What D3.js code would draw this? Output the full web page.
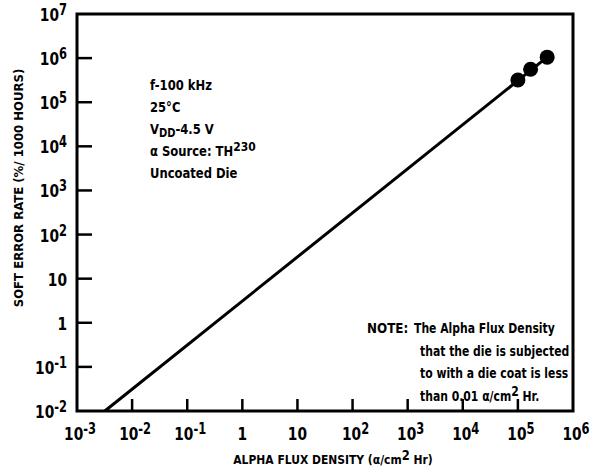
<!DOCTYPE html>
<html lang="en">
<head>
<meta charset="UTF-8">
<title>Soft error rate vs alpha flux density</title>
<script src="https://d3js.org/d3.v7.min.js"></script>
<style>
  body { margin: 0; background: #fff; }
  text { font-family: "Liberation Sans Narrow", "DejaVu Sans Condensed", "Roboto Condensed", sans-serif; fill: #000; }
</style>
</head>
<body>
<svg id="chart"></svg>
<script>
// decade ticks (exponents)
const xExps = [-3, -2, -1, 0, 1, 2, 3, 4, 5, 6];
const yExps = [-2, -1, 0, 1, 2, 3, 4, 5, 6, 7];

// measured points
const fluxPts = [1.0e5, 1.7e5, 3.4e5];
const ratePts = [3.2e5, 5.6e5, 1.05e6];

// fitted line (start at bottom edge, ends at last point)
const lineFlux = [3.2e-3, 3.4e5];
const lineRate = [1e-2, 1.05e6];

const condLines = ["f-100 kHz", "25°C", "VDD", "α Source: TH", "Uncoated Die"];
const noteLines = ["The Alpha Flux Density", "that the die is subjected", "to with a die coat is less", "than 0.01 α/cm"];

const width = 602, height = 471;
const svg = d3.select("#chart").attr("width", width).attr("height", height);

const x = d3.scaleLog().domain([1e-3, 1e6]).range([77, 573]);
const y = d3.scaleLog().domain([1e-2, 1e7]).range([411, 14]);

// condensed text: the original face is narrower than anything installed
function ctext(parent, px, py, sx) {
  return parent.append("text")
    .attr("transform", `translate(${px},${py}) scale(${sx},1)`);
}

// frame
svg.append("rect")
  .attr("x", x(1e-3)).attr("y", y(1e7))
  .attr("width", x(1e6) - x(1e-3)).attr("height", y(1e-2) - y(1e7))
  .attr("fill", "none").attr("stroke", "#000").attr("stroke-width", 3);

// inward ticks
svg.append("g").selectAll("line")
  .data(yExps.slice(1, -1))
  .join("line")
  .attr("x1", x(1e-3)).attr("x2", x(1e-3) + 15)
  .attr("y1", d => y(Math.pow(10, d))).attr("y2", d => y(Math.pow(10, d)))
  .attr("stroke", "#000").attr("stroke-width", 2.5);

svg.append("g").selectAll("line")
  .data(xExps.slice(1, -1))
  .join("line")
  .attr("x1", d => x(Math.pow(10, d))).attr("x2", d => x(Math.pow(10, d)))
  .attr("y1", y(1e-2)).attr("y2", y(1e-2) - 12)
  .attr("stroke", "#000").attr("stroke-width", 2.5);

// label helper: 10^n with raised exponent
function powLabel(sel, e) {
  if (e === 0) { sel.text("1"); return; }
  if (e === 1) { sel.text("10"); return; }
  sel.append("tspan").text("10");
  sel.append("tspan").attr("dy", -6).attr("font-size", 15).text(e < 0 ? "-" + (-e) : e);
}

const yl = svg.append("g").attr("font-size", 18).attr("font-weight", "bold");
yExps.forEach(e => {
  ctext(yl, 67, y(Math.pow(10, e)) + 7, 0.85)
    .attr("text-anchor", "end")
    .call(powLabel, e);
});

const xl = svg.append("g").attr("font-size", 18).attr("font-weight", "bold");
xExps.forEach(e => {
  ctext(xl, x(Math.pow(10, e)) + (e === 0 || e === 1 ? 0 : 3), 440, 0.85)
    .attr("text-anchor", "middle")
    .call(powLabel, e);
});

// axis titles
const xt = ctext(svg, 333, 464, 0.92)
  .attr("text-anchor", "middle").attr("font-size", 13).attr("font-weight", "bold");
xt.append("tspan").text("ALPHA FLUX DENSITY (α/cm");
xt.append("tspan").attr("dy", -4).attr("font-size", 14).text("2");
xt.append("tspan").attr("dy", 4).text("\u00a0Hr)");

svg.append("text")
  .attr("transform", "translate(23,188) rotate(-90)")
  .attr("text-anchor", "middle").attr("font-size", 13).attr("font-weight", "bold")
  .text("SOFT ERROR RATE (%/ 1000 HOURS)");

// fitted line
svg.append("path")
  .datum(d3.zip(lineFlux, lineRate))
  .attr("d", d3.line().x(d => x(d[0])).y(d => y(d[1])))
  .attr("fill", "none").attr("stroke", "#000").attr("stroke-width", 3);

// points
svg.append("g").selectAll("circle")
  .data(d3.zip(fluxPts, ratePts))
  .join("circle")
  .attr("cx", d => x(d[0])).attr("cy", d => y(d[1]))
  .attr("r", 7.5).attr("fill", "#000");

// test conditions
const cond = svg.append("g").attr("font-size", 14).attr("font-weight", "bold");
condLines.forEach((s, i) => {
  const t = ctext(cond, 150, 90 + i * 22, 0.92);
  if (s === "VDD") {
    t.append("tspan").text("V");
    t.append("tspan").attr("dy", 3).attr("font-size", 12).text("DD");
    t.append("tspan").attr("dy", -3).text("-4.5 V");
  } else if (s.endsWith("TH")) {
    t.append("tspan").text(s);
    t.append("tspan").attr("dy", -5).attr("font-size", 13).text("230");
  } else {
    t.text(s);
  }
});

// note
const note = svg.append("g").attr("font-size", 14).attr("font-weight", "bold");
ctext(note, 367, 333, 0.95).text("NOTE:");
noteLines.forEach((s, i) => {
  const t = ctext(note, i === 0 ? 414 : 420, 333 + i * 22.5, 0.86);
  t.append("tspan").text(s);
  if (i === noteLines.length - 1) {
    t.append("tspan").attr("dy", -5).attr("font-size", 14).text("2");
    t.append("tspan").attr("dy", 5).text("\u00a0Hr.");
  }
});
</script>
</body>
</html>
